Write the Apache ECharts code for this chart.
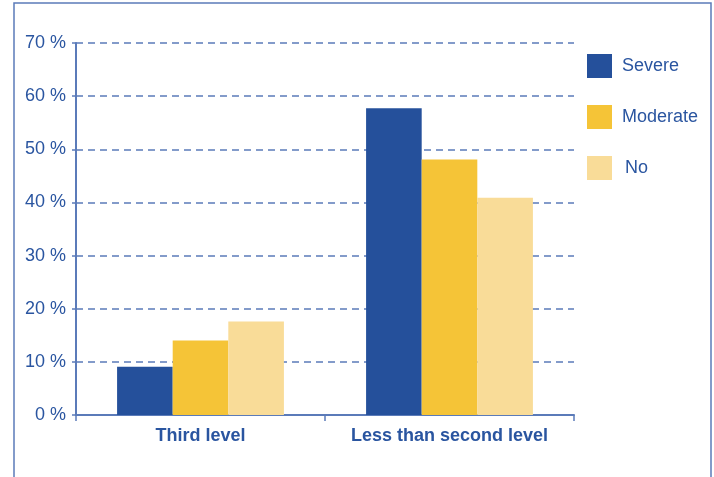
<!DOCTYPE html>
<html>
<head>
<meta charset="utf-8">
<script src="https://cdn.jsdelivr.net/npm/echarts@6/dist/echarts.min.js"></script>
<style>
  html, body { margin: 0; padding: 0; background: #ffffff; }
  #chart { width: 714px; height: 477px; }
</style>
</head>
<body>
<div id="chart"></div>
<script>
// Education level categories and share (%) per severity group
const categories = ['Third level', 'Less than second level'];
const severe = [9.1, 57.7];
const moderate = [14.0, 48.1];
const none = [17.6, 40.9];
const seriesNames = ['Severe', 'Moderate', 'No'];
const yTicks = [0, 10, 20, 30, 40, 50, 60, 70];

const textBlue = '#2a55a0';
const axisBlue = '#5b7bb9';
const colors = ['#25509b', '#f5c437', '#f9dc98'];
const font = 'Arial, "Liberation Sans", sans-serif';

const chart = echarts.init(document.getElementById('chart'));

const makeBar = (name, data, color) => ({
  name: name,
  type: 'bar',
  data: data,
  barGap: '0%',
  barCategoryGap: '33%',
  itemStyle: { color: color },
  emphasis: { disabled: true }
});

chart.setOption({
  animation: false,
  textStyle: { fontFamily: font },
  graphic: [{
    type: 'rect',
    shape: { x: 14, y: 3, width: 697, height: 500 },
    style: { fill: 'none', stroke: axisBlue, lineWidth: 1.5 },
    silent: true
  }],
  grid: { left: 76, right: 140, top: 43, bottom: 62, containLabel: false },
  legend: {
    orient: 'vertical',
    left: 582,
    top: 49,
    itemWidth: 25,
    itemHeight: 24,
    itemGap: 27,
    icon: 'rect',
    data: seriesNames.map((n, i) => ({
      name: n,
      textStyle: { padding: [0, 0, 0, i === 2 ? 8 : 5] }
    })),
    textStyle: { color: textBlue, fontSize: 18, fontFamily: font },
    selectedMode: false
  },
  xAxis: {
    type: 'category',
    data: categories,
    axisLine: { lineStyle: { color: axisBlue, width: 2 } },
    axisTick: { show: true, interval: 0, length: 6, lineStyle: { color: axisBlue, width: 1.5 } },
    axisLabel: { interval: 0, color: textBlue, fontSize: 18, fontWeight: 'bold', fontFamily: font, margin: 12 },
    splitLine: { show: false }
  },
  yAxis: {
    type: 'value',
    min: yTicks[0],
    max: yTicks[yTicks.length - 1],
    interval: 10,
    axisLine: { show: true, lineStyle: { color: axisBlue, width: 2 } },
    axisTick: { show: true, length: 4, lineStyle: { color: axisBlue, width: 1.5 } },
    axisLabel: {
      color: textBlue, fontSize: 18, fontFamily: font, margin: 10,
      formatter: v => v + ' %'
    },
    splitLine: {
      show: true,
      lineStyle: { color: axisBlue, type: [7, 5], width: 1.5 }
    }
  },
  series: [
    makeBar(seriesNames[0], severe, colors[0]),
    makeBar(seriesNames[1], moderate, colors[1]),
    makeBar(seriesNames[2], none, colors[2])
  ]
});
</script>
</body>
</html>
